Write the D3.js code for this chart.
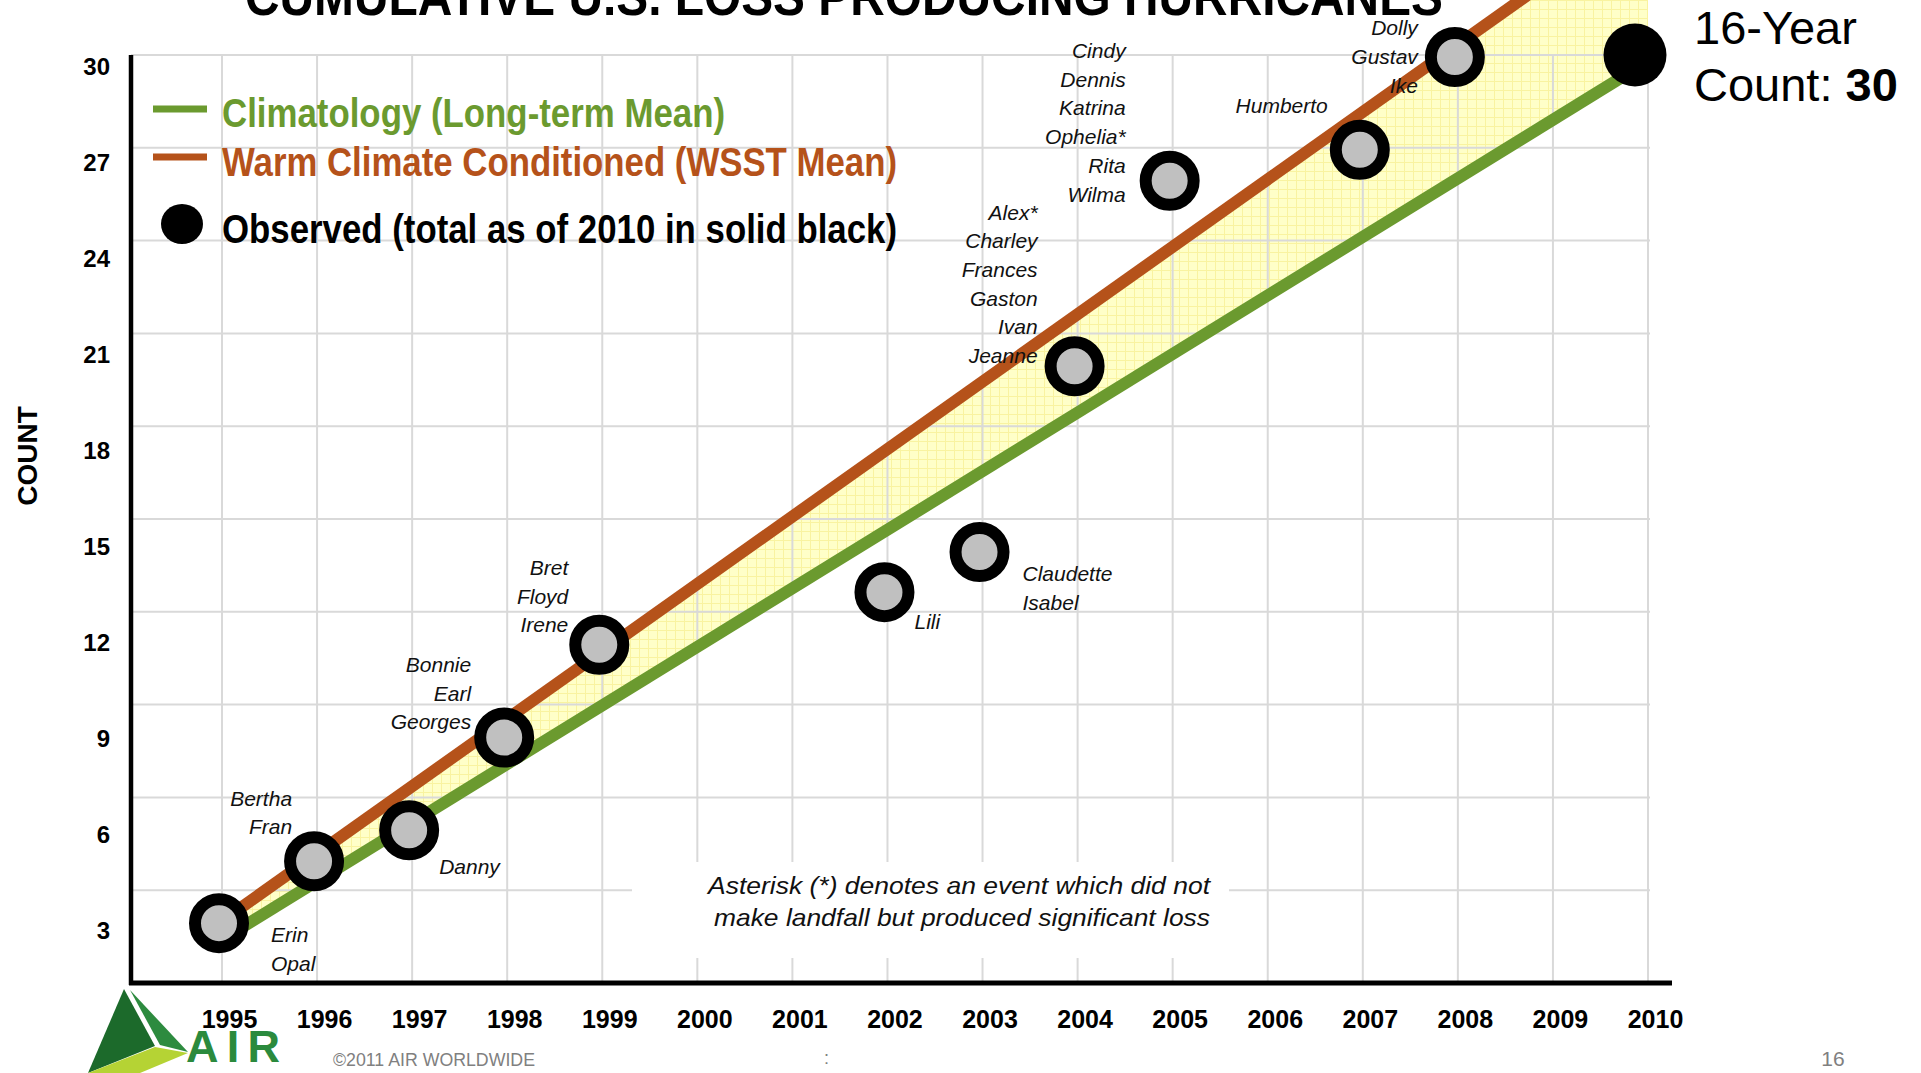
<!DOCTYPE html>
<html>
<head>
<meta charset="utf-8">
<script src="https://cdn.jsdelivr.net/npm/d3@7"></script>
<style>
body{margin:0;background:#fff;}
svg{display:block;font-family:"Liberation Sans",Arial,sans-serif;}
</style>
</head>
<body>
<script>
// values
const yearTicks = [1995,1996,1997,1998,1999,2000,2001,2002,2003,2004,2005,2006,2007,2008,2009,2010];
const countTicks = [3,6,9,12,15,18,21,24,27,30];

// the two mean lines (straight, so two ends each)
const meanYears = [1995, 2010];
const climatology = [1.4, 29.8];
const warmSST = [2.0, 34.7];

// observed cumulative count, one marker per year with landfalls
const obsYears  = [1995,1996,1997,1998,1999,2002,2003,2004,2005,2007,2008];
const obsCounts = [2,4,5,8,11,12.7,14,20,26,27,30];
const obsNames = [
  ["Erin","Opal"],
  ["Bertha","Fran"],
  ["Danny"],
  ["Bonnie","Earl","Georges"],
  ["Bret","Floyd","Irene"],
  ["Lili"],
  ["Claudette","Isabel"],
  ["Alex*","Charley","Frances","Gaston","Ivan","Jeanne"],
  ["Cindy","Dennis","Katrina","Ophelia*","Rita","Wilma"],
  ["Humberto"],
  ["Dolly","Gustav","Ike"]
];
const totalYear = 2010, totalCount = 30;

// where each name list sits next to its marker
const labelPos = {
  1995:{a:'start',dx:49,dy:14}, 1996:{a:'end',dx:-25,dy:-61}, 1997:{a:'start',dx:27,dy:38},
  1998:{a:'end',dx:-36,dy:-71}, 1999:{a:'end',dx:-34,dy:-75}, 2002:{a:'start',dx:27,dy:32},
  2003:{a:'start',dx:40,dy:24}, 2004:{a:'end',dx:-40,dy:-152}, 2005:{a:'end',dx:-47,dy:-128},
  2007:{a:'end',dx:-35,dy:-42}, 2008:{a:'end',dx:-40,dy:-27}
};

const W = 1921, H = 1073;
const green = '#6b9a2f', orange = '#b5521a';

let svg = d3.select('body').append('svg').attr('width',W).attr('height',H);

// scales
let x = d3.scaleLinear().domain([1995,2010]).range([222,1648]);
let y = d3.scaleLinear().domain([0,30]).range([983,55]);
// the slide's tick labels drift a bit from the grid, so they get their own scale
let yLab = d3.scaleLinear().domain([3,30]).range([931,67]);

// yellow band pattern
let defs = svg.append('defs');
let pat = defs.append('pattern').attr('id','band').attr('width',9).attr('height',9).attr('patternUnits','userSpaceOnUse');
pat.append('rect').attr('width',9).attr('height',9).attr('fill','#ffffc8');
pat.append('path').attr('d','M0 0.5H9M0.5 0V9').attr('stroke','#f9f3a0').attr('stroke-width',1);

// band between the two means
let means = meanYears.map((yr,i)=>({yr:yr,c:climatology[i],w:warmSST[i]}));
svg.append('path').datum(means)
  .attr('d', d3.area().x(d=>x(d.yr)).y0(d=>y(d.c)).y1(d=>y(d.w)))
  .attr('fill','url(#band)');

// grid
let grid = svg.append('g').attr('stroke','#d9d9d9').attr('stroke-width',2);
grid.selectAll('.h').data(countTicks).join('line').attr('class','h')
  .attr('x1',131).attr('x2',x(2010)+2).attr('y1',d=>y(d)).attr('y2',d=>y(d));
grid.selectAll('.v').data(yearTicks).join('line').attr('class','v')
  .attr('x1',d=>x(d)).attr('x2',d=>x(d)).attr('y1',y(30)).attr('y2',983);

// white box behind the asterisk note
svg.append('rect').attr('x',632).attr('y',862).attr('width',597).attr('height',96).attr('fill','#fff');
let note = svg.append('text').attr('x',1210).attr('text-anchor','end')
  .attr('font-style','italic').attr('font-size',24).attr('fill','#111');
note.append('tspan').attr('x',1210).attr('y',894).attr('textLength',502).attr('lengthAdjust','spacingAndGlyphs')
  .text('Asterisk (*) denotes an event which did not');
note.append('tspan').attr('x',1210).attr('y',926).attr('textLength',496).attr('lengthAdjust','spacingAndGlyphs')
  .text('make landfall but produced significant loss');

// mean lines
let line = d3.line().x(d=>x(d.yr)).y(d=>y(d.v));
svg.append('path').datum(means.map(d=>({yr:d.yr,v:d.c})))
  .attr('d',line).attr('fill','none').attr('stroke',green).attr('stroke-width',12);
svg.append('path').datum(means.map(d=>({yr:d.yr,v:d.w})))
  .attr('d',line).attr('fill','none').attr('stroke',orange).attr('stroke-width',12);

// axis lines
svg.append('line').attr('x1',131).attr('x2',131).attr('y1',55).attr('y2',985).attr('stroke','#000').attr('stroke-width',4.5);
svg.append('line').attr('x1',129).attr('x2',1672).attr('y1',983).attr('y2',983).attr('stroke','#000').attr('stroke-width',5);

// observed markers
let obs = obsYears.map((yr,i)=>({yr:yr,count:obsCounts[i],names:obsNames[i]}));
svg.append('g').selectAll('circle').data(obs).join('circle')
  .attr('cx',d=>x(d.yr)-3).attr('cy',d=>y(d.count)+2).attr('r',24)
  .attr('fill','#c0c0c0').attr('stroke','#000').attr('stroke-width',12);

// 2010 total, solid black (sits a touch left of the 2010 grid line on the slide)
svg.append('circle').attr('cx',x(totalYear)-13).attr('cy',y(totalCount)).attr('r',31.5).attr('fill','#000');

// hurricane names
obs.forEach(d=>{
  let p = labelPos[d.yr];
  let tx = x(d.yr)+p.dx;
  let t = svg.append('text').attr('text-anchor',p.a).attr('font-style','italic')
    .attr('font-size',21).attr('fill','#111');
  d.names.forEach((n,i)=>{
    t.append('tspan').attr('x',tx).attr('y',y(d.count)+p.dy+i*28.7).attr('dy','0.35em').text(n);
  });
});

// axes text
let yAx = svg.append('g').attr('transform','translate(110,0)')
  .call(d3.axisLeft(yLab).tickValues(countTicks).tickSize(0).tickPadding(0));
yAx.select('.domain').remove();
yAx.selectAll('text').attr('font-size',24).attr('font-weight','bold').attr('fill','#000')
  .attr('font-family','"Liberation Sans",Arial,sans-serif');

// logo (drawn before year labels; 1995 overlaps it)
let logo = svg.append('g');
logo.append('polygon').attr('points','124,989 88,1073 155,1046').attr('fill','#1c6a2b');
logo.append('polygon').attr('points','130,990 188,1052 160,1045').attr('fill','#2d8b3f');
logo.append('polygon').attr('points','88,1073 155,1047 188,1053 140,1073').attr('fill','#b5d334');
logo.append('text').attr('x',186).attr('y',1062).attr('font-size',45).attr('font-weight','bold')
  .attr('fill','#2b8a3d').attr('textLength',94).attr('lengthAdjust','spacing').text('AIR');

let xAx = svg.append('g').attr('transform','translate(7,1010)')
  .call(d3.axisBottom(x).tickValues(yearTicks).tickFormat(d3.format('d')).tickSize(0).tickPadding(0));
xAx.select('.domain').remove();
xAx.selectAll('text').attr('font-size',25).attr('font-weight','bold').attr('fill','#000')
  .attr('font-family','"Liberation Sans",Arial,sans-serif');

svg.append('text').attr('transform','translate(37,456) rotate(-90)').attr('text-anchor','middle')
  .attr('font-size',28).attr('font-weight','bold').text('COUNT');

// title, cut off by the top edge as on the slide
svg.append('text').attr('x',245).attr('y',15).attr('font-size',54).attr('font-weight','bold')
  .attr('textLength',1198).attr('lengthAdjust','spacingAndGlyphs')
  .text('CUMULATIVE U.S. LOSS PRODUCING HURRICANES');

// legend
svg.append('line').attr('x1',153).attr('x2',207).attr('y1',109).attr('y2',109).attr('stroke',green).attr('stroke-width',7);
svg.append('line').attr('x1',153).attr('x2',207).attr('y1',157).attr('y2',157).attr('stroke',orange).attr('stroke-width',7);
svg.append('ellipse').attr('cx',182).attr('cy',224).attr('rx',21).attr('ry',20).attr('fill','#000');
let legText = [
  {t:'Climatology (Long-term Mean)', c:green, y:127, w:503},
  {t:'Warm Climate Conditioned (WSST Mean)', c:orange, y:176, w:675},
  {t:'Observed (total as of 2010 in solid black)', c:'#000', y:243, w:675}
];
svg.selectAll('.leg').data(legText).join('text').attr('class','leg')
  .attr('x',222).attr('y',d=>d.y).attr('fill',d=>d.c).attr('font-size',41).attr('font-weight','bold')
  .attr('textLength',d=>d.w).attr('lengthAdjust','spacingAndGlyphs').text(d=>d.t);

// 16-year count
svg.append('text').attr('x',1694).attr('y',44).attr('font-size',47).text('16-Year');
let cnt = svg.append('text').attr('x',1694).attr('y',101).attr('font-size',47);
cnt.append('tspan').text('Count: ');
cnt.append('tspan').attr('font-weight','bold').text(totalCount);

// footer
svg.append('text').attr('x',333).attr('y',1066).attr('font-size',18).attr('fill','#808080')
  .attr('textLength',202).attr('lengthAdjust','spacingAndGlyphs').text('\u00a92011 AIR WORLDWIDE');
svg.append('text').attr('x',824).attr('y',1064).attr('font-size',18).attr('fill','#808080').text(':');
svg.append('text').attr('x',1833).attr('y',1066).attr('text-anchor','middle').attr('font-size',21).attr('fill','#808080').text('16');
</script>
</body>
</html>
